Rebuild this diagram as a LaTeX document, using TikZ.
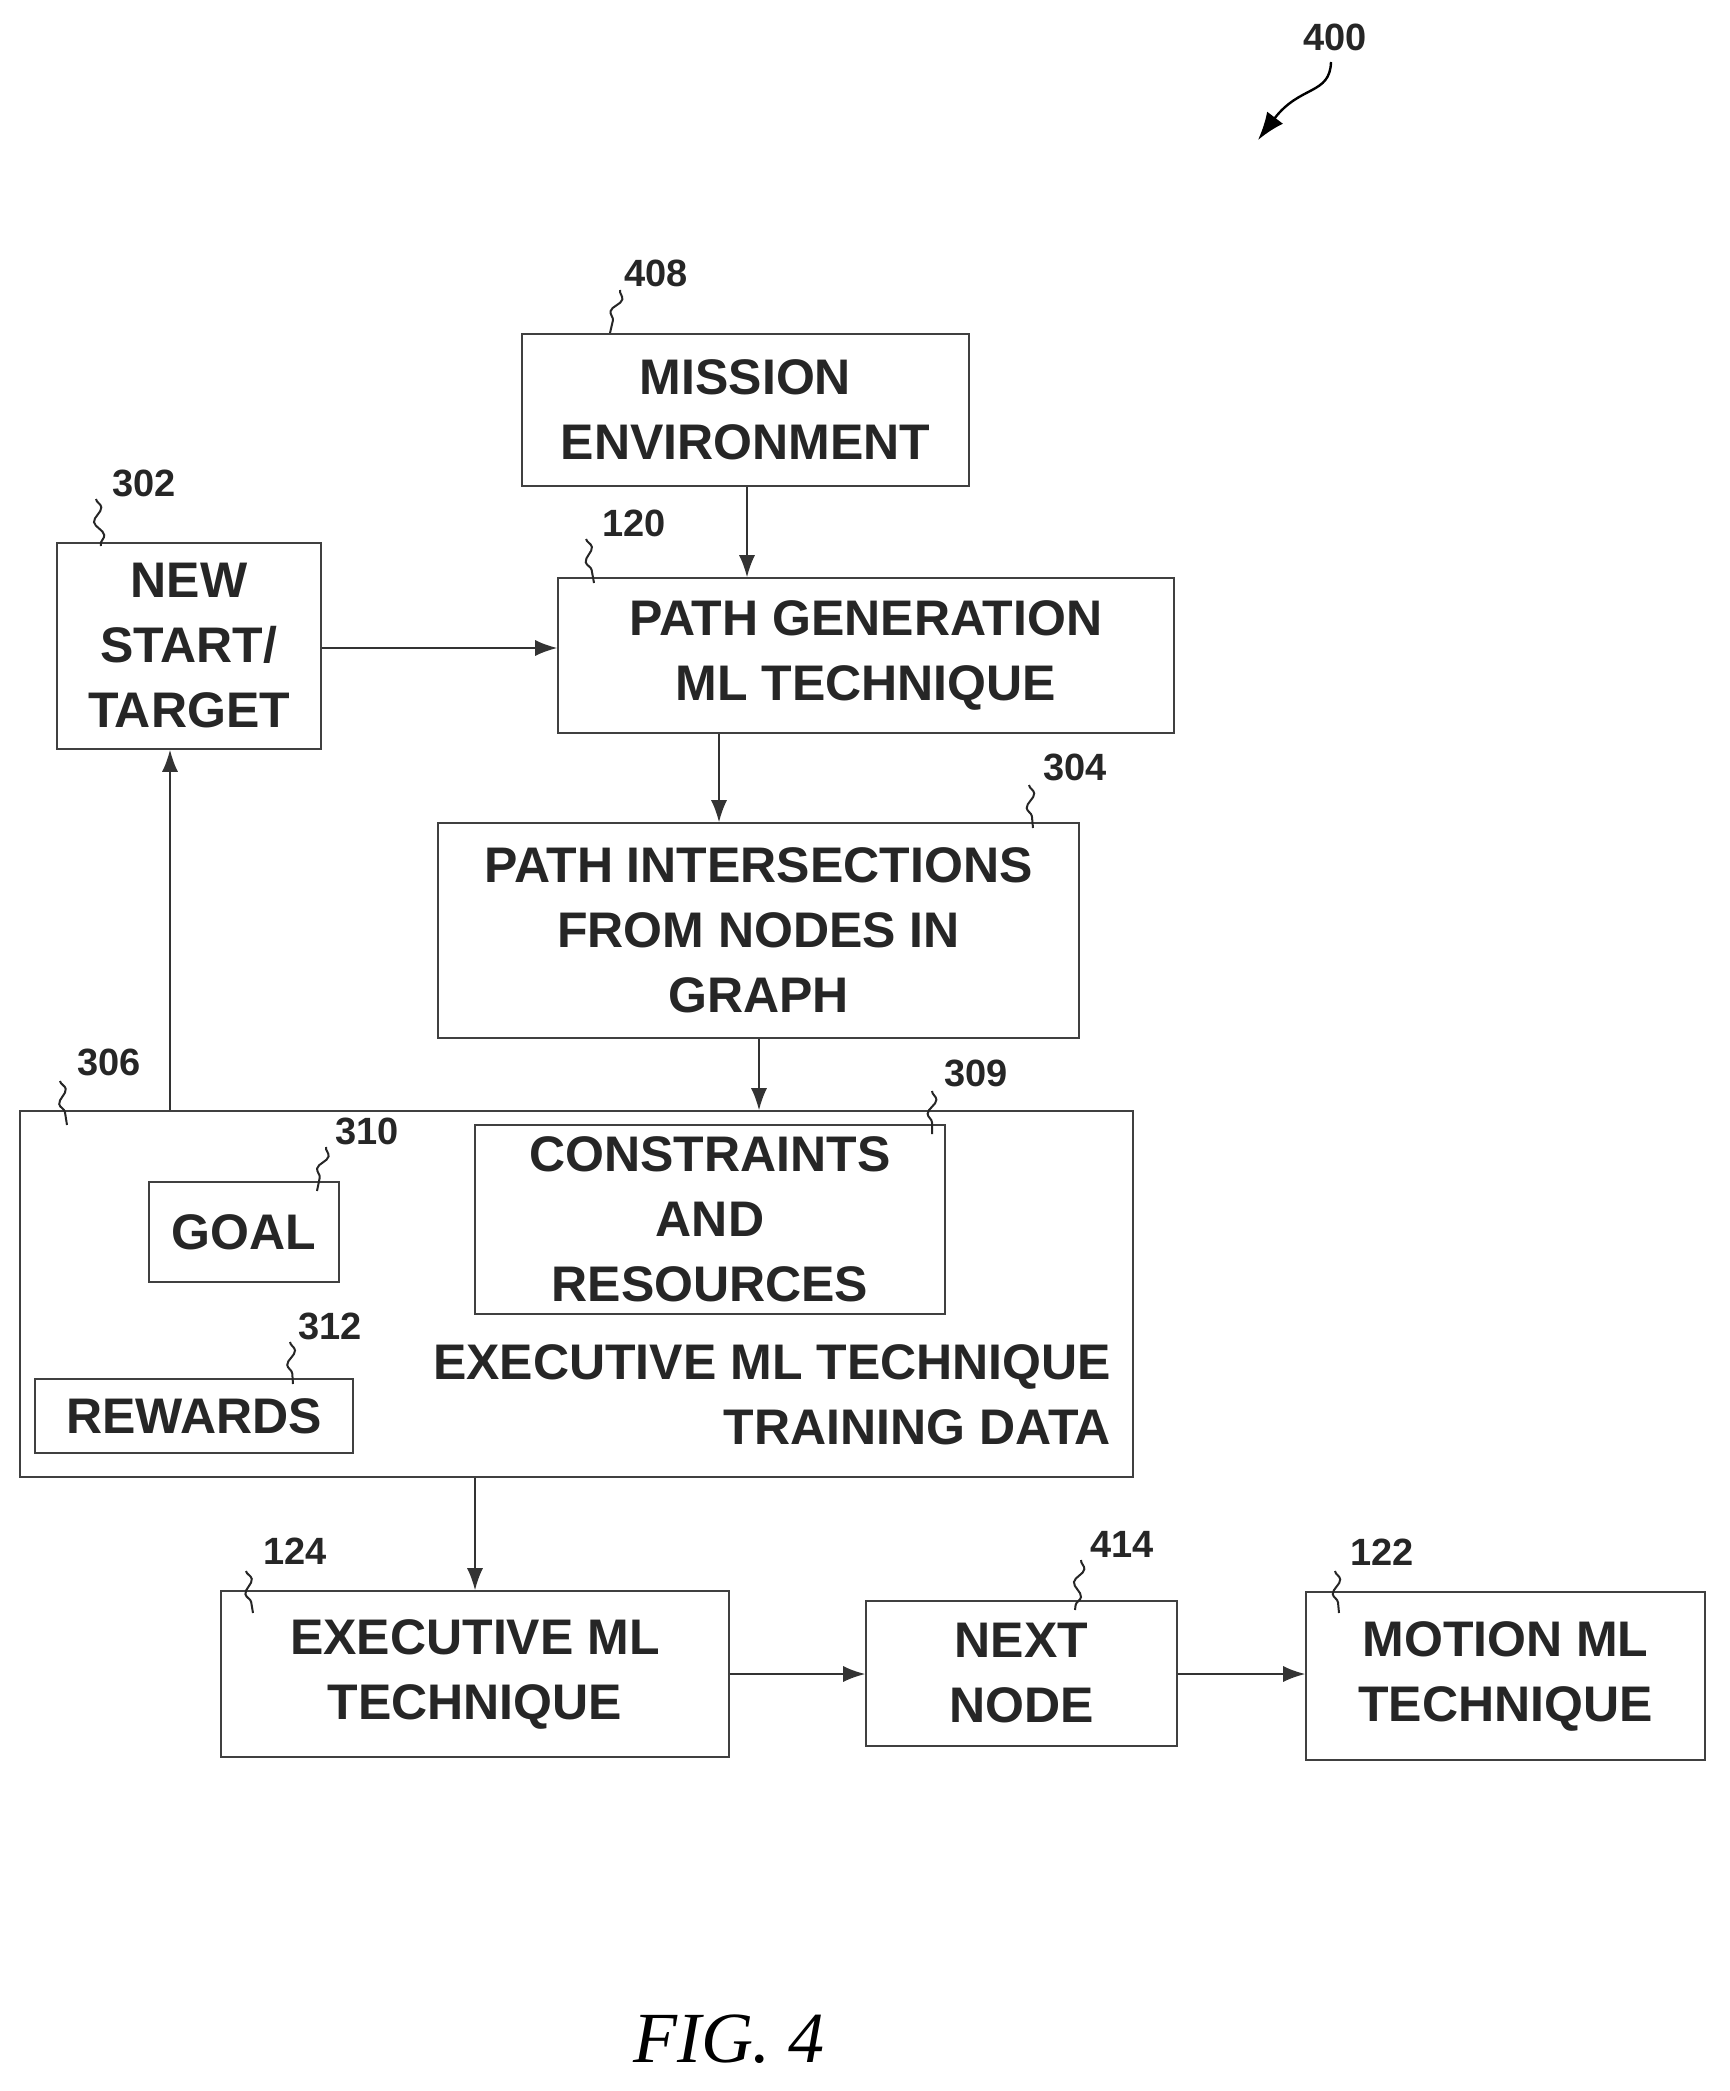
\documentclass[tikz,border=0pt]{standalone}
\usepackage{fontspec}
\setmainfont{Liberation Sans}
\newfontfamily\figfont{Liberation Serif}
\usetikzlibrary{fit,arrows.meta,decorations.pathmorphing}
\begin{document}
\begin{tikzpicture}[x=0.5pt,y=-0.5pt,
  box/.style={draw=black!75,line width=0.8pt,inner sep=0pt},
  txt/.style={font=\bfseries\fontsize{25}{32.5}\selectfont,align=center,text=black!85},
  num/.style={font=\bfseries\fontsize{19}{22}\selectfont,text=black!85},
  arr/.style={-{Latex[length=11pt,width=8pt]},line width=0.8pt,draw=black!80},
  sq/.style={draw=black!85,line width=1pt,decorate,decoration={snake,amplitude=2.2pt,segment length=14pt}}]
\useasboundingbox (0,0) rectangle (1729,2091);
\node[box,fit={(522,334) (969,486)}] (me) {};
\node[txt] at (me) {MISSION\\ENVIRONMENT};
\node[box,fit={(57,543) (321,749)}] (ns) {};
\node[txt] at (ns) {NEW\\START/\\TARGET};
\node[box,fit={(558,578) (1174,733)}] (pg) {};
\node[txt] at (pg) {PATH GENERATION\\ML TECHNIQUE};
\node[box,fit={(438,823) (1079,1038)}] (pi) {};
\node[txt] at (pi) {PATH INTERSECTIONS\\FROM NODES IN\\GRAPH};
\node[box,fit={(20,1111) (1133,1477)}] (big) {};
\node[box,fit={(149,1182) (339,1282)}] (goal) {};
\node[txt] at (goal) {GOAL};
\node[box,fit={(475,1125) (945,1314)}] (cr) {};
\node[txt] at (cr) {CONSTRAINTS\\AND\\RESOURCES};
\node[box,fit={(35,1379) (353,1453)}] (rw) {};
\node[txt] at (rw) {REWARDS};
\node[txt,align=right,anchor=east] (etd) at (1118,1395) {EXECUTIVE ML TECHNIQUE\\TRAINING DATA};
\node[box,fit={(221,1591) (729,1757)}] (ex) {};
\node[txt] at (ex) {EXECUTIVE ML\\TECHNIQUE};
\node[box,fit={(866,1601) (1177,1746)}] (nn) {};
\node[txt] at (nn) {NEXT\\NODE};
\node[box,fit={(1306,1592) (1705,1760)}] (mo) {};
\node[txt] at (mo) {MOTION ML\\TECHNIQUE};
% arrows
\draw[arr] (me.south -| 747,0) -- (pg.north -| 747,0);
\draw[arr] (ns.east |- 0,648) -- (pg.west |- 0,648);
\draw[arr] (pg.south -| 719,0) -- (pi.north -| 719,0);
\draw[arr] (pi.south -| 759,0) -- (big.north -| 759,0);
\draw[arr] (big.north -| 170,0) -- (ns.south -| 170,0);
\draw[arr] (big.south -| 475,0) -- (ex.north -| 475,0);
\draw[arr] (ex.east |- 0,1674) -- (nn.west |- 0,1674);
\draw[arr] (nn.east |- 0,1674) -- (mo.west |- 0,1674);
% reference numerals
\node[num] (n400) at (1335,37) {400};
\node[num] (n408) at (656,273) {408};
\node[num] (n302) at (144,483) {302};
\node[num] (n120) at (634,523) {120};
\node[num] (n304) at (1075,767) {304};
\node[num] (n306) at (109,1062) {306};
\node[num] (n309) at (976,1073) {309};
\node[num] (n310) at (367,1131) {310};
\node[num] (n312) at (330,1326) {312};
\node[num] (n124) at (295,1551) {124};
\node[num] (n414) at (1122,1544) {414};
\node[num] (n122) at (1382,1552) {122};
\draw[line width=1.2pt,-{Latex[length=14pt,width=10pt]}] (1331,62) .. controls (1330,95) and (1300,85) .. (1258,140);
\foreach \a/\b in {{620,290}/{610,333},{96,499}/{101,546},{586,539}/{594,583},{1029,785}/{1033,828},{60,1081}/{67,1125},{932,1091}/{932,1134},{326,1147}/{317,1191},{290,1342}/{293,1384},{246,1571}/{253,1613},{1081,1560}/{1075,1610},{1335,1571}/{1339,1613}}
  \draw[sq] (\a) -- (\b);
\node[font=\figfont\itshape\fontsize{36}{40}\selectfont] (fig) at (729,2039) {FIG. 4};
\end{tikzpicture}
\end{document}
